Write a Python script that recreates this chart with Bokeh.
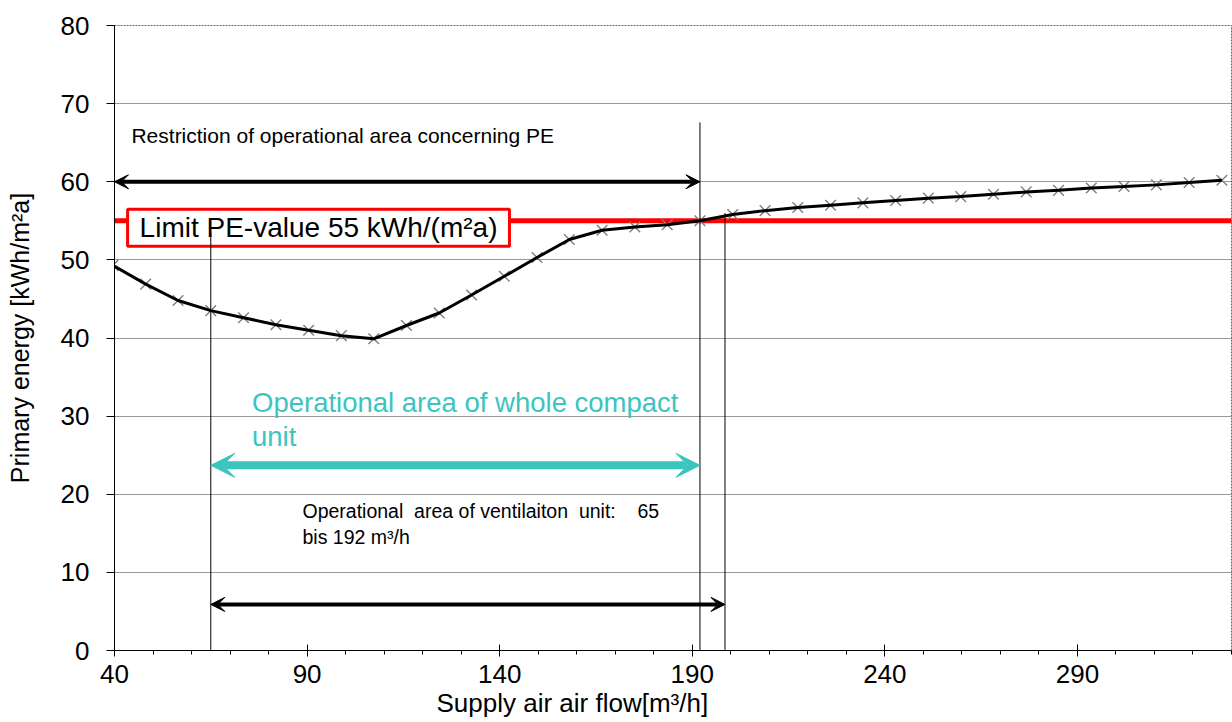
from bokeh.plotting import figure
from bokeh.models import Span, Label, Arrow, VeeHead, FixedTicker, Range1d, ColumnDataSource, Title
from bokeh.embed import file_html
from bokeh.resources import INLINE

# ---- data ----
flow = [39.6, 48.1, 56.5, 65.0, 73.5, 81.9, 90.4, 98.9, 107.3, 115.8, 124.3, 132.7,
        141.2, 149.7, 158.1, 166.6, 175.1, 183.5, 192.0, 200.5, 208.9, 217.4, 225.9,
        234.3, 242.8, 251.3, 259.7, 268.2, 276.7, 285.1, 293.6, 302.1, 310.5, 319.0, 327.5]
energy = [49.3, 46.9, 44.8, 43.5, 42.6, 41.7, 41.0, 40.3, 39.9, 41.6, 43.2, 45.5,
          47.9, 50.3, 52.6, 53.8, 54.2, 54.5, 55.0, 55.8, 56.3, 56.7, 57.0,
          57.3, 57.6, 57.9, 58.1, 58.4, 58.7, 58.9, 59.2, 59.4, 59.6, 59.9, 60.2]
limit_pe = 55
x_ticks = [40, 90, 140, 190, 240, 290]
x_minor = list(range(40, 331, 10))
y_ticks = list(range(0, 81, 10))

# marker lines (x, top) and range arrows (start, end, level)
vline_x = [65, 192, 198.5]
vline_top = [53.5, 67.6, 56.0]
pe_range = (40, 192, 60)
compact_range = (65, 192, 23.7)
vent_range = (65, 198.5, 5.9)

FONT = "Liberation Sans"
TEAL = "#3cc4bf"

p = figure(width=1232, height=722, x_range=Range1d(40, 330), y_range=Range1d(0, 80),
           output_backend="svg", toolbar_location=None,
           min_border_left=114, min_border_top=25, min_border_right=1, min_border_bottom=72)
p.background_fill_color = "white"
p.outline_line_color = "#666666"
p.outline_line_dash = "2 1"

p.xgrid.grid_line_color = None
p.ygrid.grid_line_color = "#333333"
p.ygrid.grid_line_dash = "1 1"
p.ygrid.grid_line_width = 1

p.yaxis.ticker = FixedTicker(ticks=y_ticks)
p.yaxis.axis_line_color = "black"
p.yaxis.major_tick_out = 8
p.yaxis.major_tick_in = 0
p.yaxis.minor_tick_out = 0
p.yaxis.major_label_standoff = 17
p.yaxis.major_label_text_font = FONT
p.yaxis.major_label_text_font_size = "26px"
p.yaxis.major_label_text_color = "black"
p.yaxis.axis_label = "Primary energy [kWh/m²a]"
p.yaxis.axis_label_text_font = FONT
p.yaxis.axis_label_text_font_size = "25px"
p.yaxis.axis_label_text_font_style = "normal"
p.yaxis.axis_label_text_color = "black"
p.yaxis.axis_label_standoff = 24

p.xaxis.ticker = FixedTicker(ticks=x_ticks, minor_ticks=x_minor)
p.xaxis.axis_line_color = "black"
p.xaxis.major_tick_in = 6
p.xaxis.major_tick_out = 6
p.xaxis.minor_tick_in = 0
p.xaxis.minor_tick_out = 4
p.xaxis.major_label_standoff = 8
p.xaxis.major_label_text_font = FONT
p.xaxis.major_label_text_font_size = "26px"
p.xaxis.major_label_text_color = "black"

# x axis title (offset to the left as in the original)
p.add_layout(Title(text="Supply air air flow[m³/h]", align="left", offset=322,
                   text_font=FONT, text_font_size="26px", text_font_style="normal",
                   text_color="black", standoff=0), "below")

# limit line and its label box
p.add_layout(Span(location=limit_pe, dimension="width", line_color="#ff0000",
                  line_width=5, level="underlay"))
p.add_layout(Label(x=43.4, y=54.1, text="Limit PE-value 55 kWh/(m²a)",
                   text_font=FONT, text_font_size="28px", text_color="black",
                   text_baseline="middle", background_fill_color="white",
                   border_line_color="#ff0000", border_line_width=3,
                   padding=dict(left=12, right=12, top=3, bottom=3),
                   level="underlay"))

# vertical marker lines
p.segment(x0=vline_x, y0=[0] * len(vline_x), x1=vline_x, y1=vline_top,
          line_color="black", line_width=1)

# data
src = ColumnDataSource(dict(x=flow, y=energy))
p.scatter("x", "y", source=src, marker="x", size=15, line_color="#7f7f7f", line_width=1.4)
p.line("x", "y", source=src, line_color="black", line_width=3)

# range arrows
for (a, b, lev), col, lw, hs in [(pe_range, "black", 4, 14),
                                 (compact_range, TEAL, 8, 24),
                                 (vent_range, "black", 4, 14)]:
    p.add_layout(Arrow(x_start=a, y_start=lev, x_end=b, y_end=lev,
                       line_color=col, line_width=lw,
                       start=VeeHead(size=hs, fill_color=col, line_color=col, line_width=1),
                       end=VeeHead(size=hs, fill_color=col, line_color=col, line_width=1)))

# texts
NB = "\u00a0"
p.add_layout(Label(x=44.4, y=65.9, text="Restriction of operational area concerning PE",
                   text_font=FONT, text_font_size="21px", text_color="black",
                   text_baseline="alphabetic"))
p.add_layout(Label(x=75.7, y=33.7, text="Operational area of whole compact\nunit",
                   text_font=FONT, text_font_size="27.5px", text_color=TEAL,
                   text_baseline="top", text_line_height=1.09))
p.add_layout(Label(x=88.8, y=19.3,
                   text="Operational" + NB + " area of ventilaiton" + NB + " unit:" + NB * 3 + " 65\nbis 192 m³/h",
                   text_font=FONT, text_font_size="19.5px", text_color="black",
                   text_baseline="top", text_line_height=1.18))

open("out.html", "w").write(file_html(p, INLINE))
